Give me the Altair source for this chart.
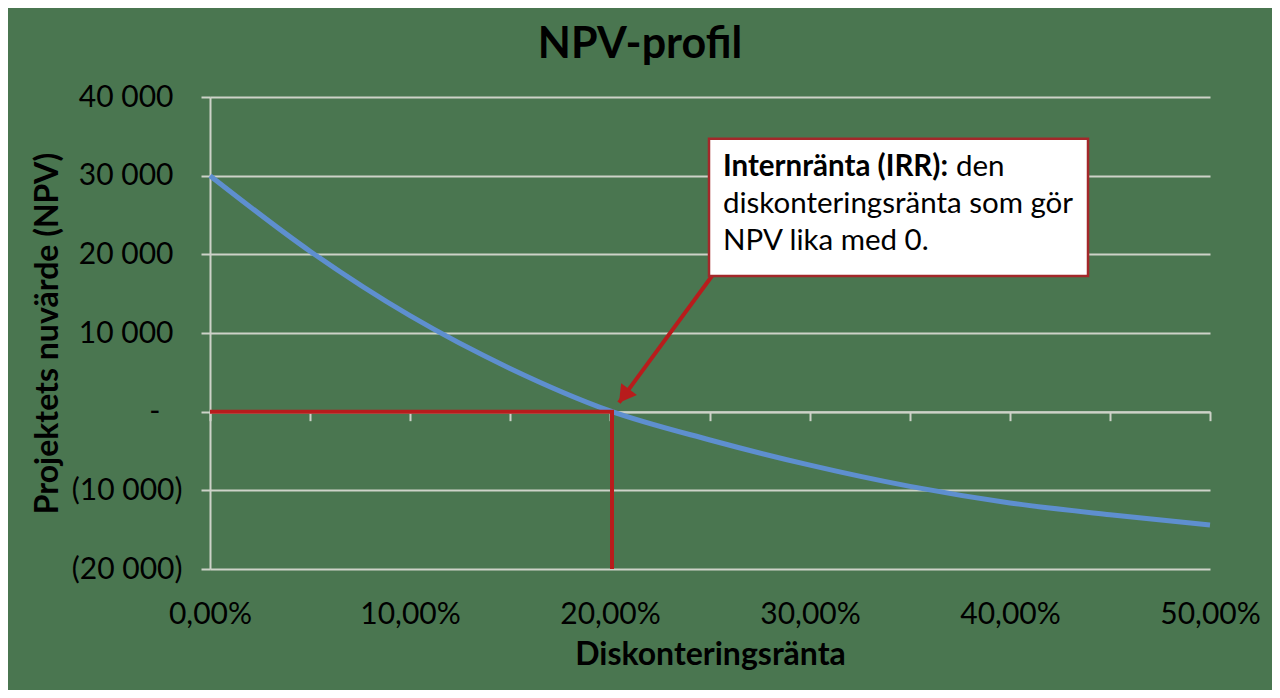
import altair as alt
import pandas as pd

# Diskonteringsränta (%) och NPV
ranta = [0, 5, 10, 15, 20, 25, 30, 35, 40, 45, 50]
npv = [30000, 20400, 12200, 5500, 100, -3600, -6800, -9500, -11600, -13100, -14400]

# IRR-markering (röd vinkel)
irr_x = [0, 20.1, 20.1]
irr_y = [0, 0, -20000]

# pil från rutan till IRR
pil_start = (25.1, 17250)
pil_slut = (20.45, 1150)
spets = (20.7, 2000)

# textruta
ruta = (24.95, 34700, 43.9, 17250)
rad_fet = "Internränta (IRR):"
rad1 = "den"
rad2 = "diskonteringsränta som gör"
rad3 = "NPV lika med 0."

y_ticks = [-20000, -10000, 0, 10000, 20000, 30000, 40000]
y_neg = [-20000, -10000]
x_labels = [0, 10, 20, 30, 40, 50]
x_ticks = [0, 5, 10, 15, 20, 25, 30, 35, 40, 45, 50]

FONT = "Lato"
GRID = "#cdd2c8"
BLUE = "#5e8fcf"
RED = "#b81c1c"
BG = "#4a7650"

df = pd.DataFrame({"ranta": ranta, "npv": npv})
df_irr = pd.DataFrame({"x": irr_x, "y": irr_y, "o": [0, 1, 2]})
df_pil = pd.DataFrame({"x": [pil_start[0]], "y": [pil_start[1]],
                       "x2": [pil_slut[0]], "y2": [pil_slut[1]]})
df_spets = pd.DataFrame({"x": [spets[0]], "y": [spets[1]]})
df_ruta = pd.DataFrame({"x": [ruta[0]], "y": [ruta[1]], "x2": [ruta[2]], "y2": [ruta[3]]})
df_fet = pd.DataFrame({"x": [25.65], "y": [29950], "t": [rad_fet]})
df_text = pd.DataFrame({"x": [37.3, 25.65, 25.65], "y": [29950, 25250, 20550],
                        "t": [rad1, rad2, rad3]})

xs = alt.Scale(domain=[0, 50], nice=False)
ys = alt.Scale(domain=[-20000, 40000], nice=False)

# Excel-format: positiva med mellanslag, negativa inom parentes, noll som "-"
pos_label = "datum.value > 0 ? replace(format(datum.value, ',d'), ',', ' ') : ''"
neg_label = "'(' + replace(format(-datum.value, ',d'), ',', ' ') + ')'"
x_label = "replace(format(datum.value, '.2f'), '.', ',') + '%'"

lbl = dict(labelFont=FONT, labelFontSize=30, labelColor="black", labelFlush=False)

kurva = alt.Chart(df).mark_line(color=BLUE, strokeWidth=5, interpolate="monotone").encode(
    x=alt.X("ranta:Q", scale=xs, axis=alt.Axis(
        orient="bottom", values=x_labels, labelExpr=x_label, labelPadding=30,
        domain=False, ticks=False, grid=False, title="Diskonteringsränta",
        titleFont=FONT, titleFontSize=32, titleFontWeight="bold",
        titleColor="black", titlePadding=10, zindex=0, **lbl)),
    y=alt.Y("npv:Q", scale=ys, axis=alt.Axis(
        orient="left", values=y_ticks, labelExpr=pos_label, labelPadding=28,
        tickSize=9, tickColor=GRID, tickWidth=2, domainColor=GRID, domainWidth=2,
        gridColor=GRID, gridWidth=2, title="Projektets nuvärde (NPV)",
        titleFont=FONT, titleFontSize=32, titleFontWeight="bold",
        titleColor="black", titlePadding=14, zindex=0, **lbl)),
)

nollaxel = alt.Chart(df).mark_line(opacity=0).encode(
    x=alt.X("ranta:Q", scale=xs, axis=alt.Axis(
        orient="bottom", offset=-157.33, values=x_ticks, labels=False, title="",
        domainColor=GRID, domainWidth=2, tickColor=GRID, tickWidth=2,
        tickSize=9, grid=False, zindex=0)),
    y=alt.Y("npv:Q", scale=ys, axis=alt.Axis(
        orient="left", values=y_neg, labelExpr=neg_label, labelPadding=28,
        domain=False, ticks=False, tickSize=0, grid=False, title="", zindex=0, **lbl)),
)

irr_linje = alt.Chart(df_irr).mark_line(color=RED, strokeWidth=4).encode(
    x=alt.X("x:Q", scale=xs, axis=None),
    y=alt.Y("y:Q", scale=ys, axis=alt.Axis(
        orient="left", values=[0], labelExpr="'-'", labelPadding=50,
        domain=False, ticks=False, tickSize=0, grid=False, title="", zindex=0, **lbl)),
    order="o:O",
)

pil = alt.Chart(df_pil).mark_rule(color=RED, strokeWidth=4).encode(
    x=alt.X("x:Q", scale=xs, axis=None), y=alt.Y("y:Q", scale=ys, axis=None),
    x2="x2:Q", y2="y2:Q",
)

pilspets = alt.Chart(df_spets).mark_point(
    shape="triangle-up", filled=True, size=380, angle=216.5, color=RED, opacity=1
).encode(x=alt.X("x:Q", scale=xs, axis=None), y=alt.Y("y:Q", scale=ys, axis=None))

ruta_mark = alt.Chart(df_ruta).mark_rect(fill="white", stroke="#a3282a", strokeWidth=2.5).encode(
    x=alt.X("x:Q", scale=xs, axis=None), y=alt.Y("y:Q", scale=ys, axis=None),
    x2="x2:Q", y2="y2:Q",
)

fet_text = alt.Chart(df_fet).mark_text(
    align="left", baseline="alphabetic", font=FONT, fontSize=29.5, fontWeight="bold", color="black"
).encode(x=alt.X("x:Q", scale=xs, axis=None), y=alt.Y("y:Q", scale=ys, axis=None), text="t:N")

vanlig_text = alt.Chart(df_text).mark_text(
    align="left", baseline="alphabetic", font=FONT, fontSize=29.5, color="black"
).encode(x=alt.X("x:Q", scale=xs, axis=None), y=alt.Y("y:Q", scale=ys, axis=None), text="t:N")

chart = alt.layer(
    kurva, nollaxel, irr_linje, pil, pilspets, ruta_mark, fet_text, vanlig_text
).resolve_axis(x="independent", y="independent").properties(
    width=1000, height=472, autosize="none",
    padding={"left": 202, "top": 89, "right": 62, "bottom": 121},
    title=alt.TitleParams("NPV-profil", font=FONT, fontSize=43, fontWeight="bold",
                          color="black", anchor="middle", dx=-70, offset=15),
).configure(background=BG).configure_view(strokeWidth=0)

chart.save("out.html", embed_options={"renderer": "svg", "actions": False})
